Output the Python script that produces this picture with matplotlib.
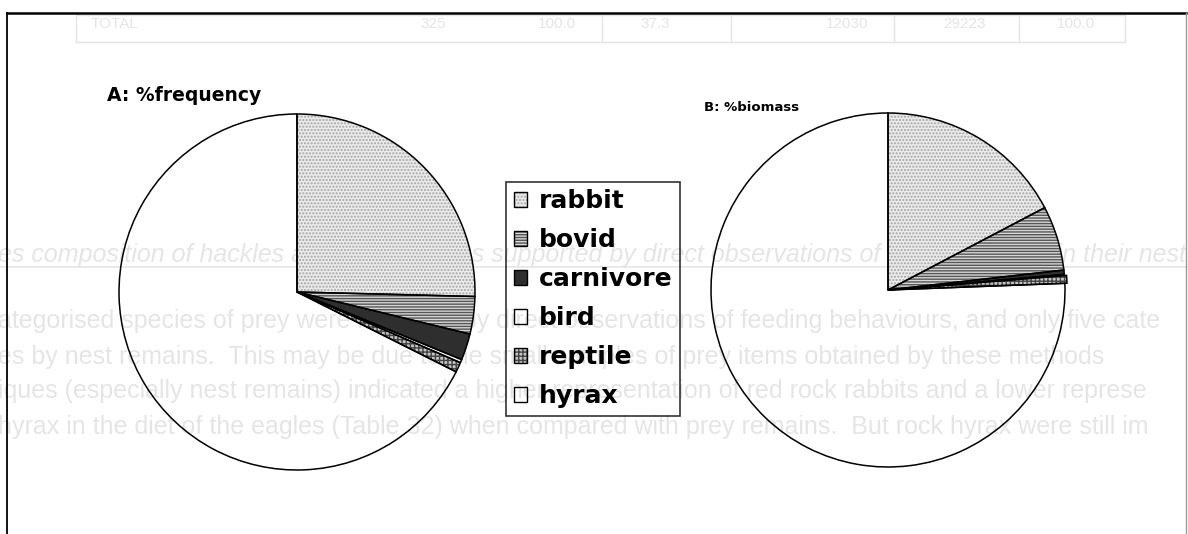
import matplotlib
matplotlib.use('Agg')
import matplotlib.pyplot as plt
from matplotlib.patches import Patch
from matplotlib.lines import Line2D

W, H, DPI = 1188, 534, 100

prey = ['rabbit', 'bovid', 'carnivore', 'bird', 'reptile', 'hyrax']
freq_pct = [25.4, 3.4, 2.4, 0.3, 0.9, 67.6]
biomass_pct = [17.3, 5.9, 0.4, 0.1, 0.7, 75.6]

# fill / hatch / hatch colour for each prey type
fills = ['#ebebeb', '#d6d6d6', '#2e2e2e', 'none', '#c4c4c4', 'none']
hatches = ['.....', '------', None, None, '++++', None]
hatch_cols = ['#a4a4a4', '#555555', '#2e2e2e', 'white', '#444444', 'white']

# faint show-through from the page underneath
ghost_col = '#e5e5e5'
table_cells = ['TOTAL', '325', '100.0', '37.3', '12030', '29223', '100.0']
table_x = [91, 420, 538, 640, 826, 943, 1057]
ghost_lines = [
    'es composition of hackles and prey remains supported by direct observations of eagles feeding in their nest',
    'ategorised species of prey were recorded by direct observations of feeding behaviours, and only five cate',
    'es by nest remains.  This may be due to the small samples of prey items obtained by these methods',
    'iques (especially nest remains) indicated a higher representation of red rock rabbits and a lower represe',
    'hyrax in the diet of the eagles (Table 32) when compared with prey remains.  But rock hyrax were still im',
]
ghost_y = [255, 321, 357, 391, 427]

fig = plt.figure(figsize=(W / DPI, H / DPI), dpi=DPI)


def fx(px):
    return px / W


def fy(py):
    return 1 - py / H


# ghost text behind everything
for txt, x in zip(table_cells, table_x):
    fig.text(fx(x), fy(28), txt, color=ghost_col, fontsize=11, family='Liberation Sans', zorder=-5)
for yy in (15, 42):
    fig.add_artist(Line2D([fx(76), fx(1125)], [fy(yy), fy(yy)], color=ghost_col, lw=1, zorder=-5))
for xx in (76, 602, 731, 894, 1019, 1125):
    fig.add_artist(Line2D([fx(xx), fx(xx)], [fy(15), fy(42)], color=ghost_col, lw=1, zorder=-5))
for i, (txt, yy) in enumerate(zip(ghost_lines, ghost_y)):
    fig.text(fx(-2), fy(yy), txt, color=ghost_col, fontsize=18, family='Liberation Sans',
             style='italic' if i == 0 else 'normal', va='center', zorder=-5)
fig.add_artist(Line2D([0, 1], [fy(267), fy(267)], color=ghost_col, lw=1.2, zorder=-5))

# page frame
fig.add_artist(Line2D([fx(7), fx(1186)], [fy(13), fy(13)], color='black', lw=1.8))
fig.add_artist(Line2D([fx(7), fx(7)], [fy(13), 0], color='black', lw=1.3))
fig.add_artist(Line2D([fx(1186), fx(1186)], [fy(13), 0], color='#9a9a9a', lw=1))


def draw_pie(cx, cy, r, values, explode):
    pad = 1.1
    ax = fig.add_axes([fx(cx - r * pad), fy(cy + r * pad), 2 * r * pad / W, 2 * r * pad / H])
    ax.patch.set_visible(False)
    wedges, _ = ax.pie(values, startangle=90, counterclock=False, explode=explode,
                       wedgeprops=dict(linewidth=0))
    for w, fc, ht, hc in zip(wedges, fills, hatches, hatch_cols):
        w.set_facecolor(fc)
        w.set_edgecolor(hc)
        if ht:
            w.set_hatch(ht)
    # outlines on top
    ax.pie(values, startangle=90, counterclock=False, explode=explode,
           wedgeprops=dict(fill=False, edgecolor='black', linewidth=1.1))
    ax.set_xlim(-pad, pad)
    ax.set_ylim(-pad, pad)
    ax.axis('off')
    return ax


draw_pie(297, 292, 178, freq_pct, [0, 0, 0, 0, 0, 0])
draw_pie(888, 290, 177, biomass_pct, [0, 0, 0, 0, 0.012, 0])

fig.text(fx(107), fy(101), 'A: %frequency', fontsize=13.5, family='DejaVu Sans',
         weight='bold', va='baseline')
fig.text(fx(704), fy(111), 'B: %biomass', fontsize=9.5, family='DejaVu Sans',
         weight='bold', va='baseline')

handles = [(Patch(facecolor=fc, edgecolor=hc, hatch=ht, linewidth=0),
            Patch(fill=False, edgecolor='black', linewidth=1))
           for fc, ht, hc in zip(fills, hatches, hatch_cols)]
leg = fig.legend(handles, prey, loc='upper left', bbox_to_anchor=(fx(506), fy(182)),
                 frameon=True, fancybox=False, edgecolor='black', facecolor='none',
                 framealpha=None, prop={'family': 'DejaVu Sans', 'size': 18, 'weight': 'bold'},
                 handlelength=0.55, handleheight=0.55, handletextpad=0.45,
                 labelspacing=0.6, borderpad=0.3, borderaxespad=0)
leg.get_frame().set_linewidth(1.2)

fig.savefig('out.png', dpi=DPI, facecolor='white')
